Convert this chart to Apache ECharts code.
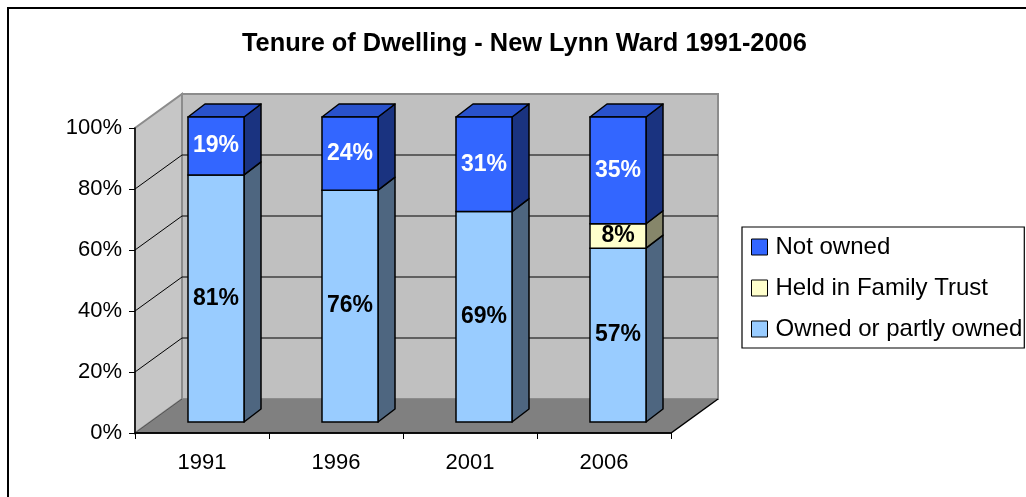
<!DOCTYPE html>
<html>
<head>
<meta charset="utf-8">
<script src="https://cdn.jsdelivr.net/npm/echarts@6/dist/echarts.min.js"></script>
<style>html,body{margin:0;padding:0;background:#fff}#c{width:1026px;height:497px}</style>
</head>
<body>
<div id="c"></div>
<script>
const categories = ['1991', '1996', '2001', '2006'];
const ownedValues = [81, 76, 69, 57];
const trustValues = [0, 0, 0, 8];
const notOwnedValues = [19, 24, 31, 35];
const yTicks = [0, 20, 40, 60, 80, 100];
const seriesNames = ['Owned or partly owned', 'Held in Family Trust', 'Not owned'];

const FONT = '"Liberation Sans", Arial, sans-serif';
// 3D geometry (pixels)
const WALL_DX = 47, WALL_DY = -34;
const OFF_X = 14, OFF_Y = -11;
const BAR_DX = 17, BAR_DY = -13;
const BAR_FRAC = 0.418;

const styles = [
  {front: '#99CCFF', side: '#4E6680', top: '#7AA3CC', text: '#000'},
  {front: '#FFFFCC', side: '#86866A', top: '#CCCCA3', text: '#000'},
  {front: '#3366FF', side: '#1A3380', top: '#2952CC', text: '#fff'}
];

const stacks = [ownedValues, trustValues, notOwnedValues];
function buildData(k) {
  return categories.map((c, i) => {
    let start = 0;
    for (let j = 0; j < k; j++) start += stacks[j][i];
    const v = stacks[k][i];
    return [i, start, start + v, v];
  });
}

function wallRender(params, api) {
  const band = api.size([1, 0])[0];
  const p0 = api.coord([0, 0]);
  const left = p0[0] - band / 2;
  const right = left + band * categories.length;
  const y0 = p0[1];
  const yTop = api.coord([0, yTicks[yTicks.length - 1]])[1];
  const children = [];
  children.push({type: 'polygon', shape: {points: [[left + WALL_DX, yTop + WALL_DY], [right + WALL_DX, yTop + WALL_DY], [right + WALL_DX, y0 + WALL_DY], [left + WALL_DX, y0 + WALL_DY]]},
    style: {fill: '#C0C0C0', stroke: '#8C8C8C', lineWidth: 2}});
  children.push({type: 'polygon', shape: {points: [[left, y0], [left, yTop], [left + WALL_DX, yTop + WALL_DY], [left + WALL_DX, y0 + WALL_DY]]},
    style: {fill: '#C6C6C6', stroke: '#8C8C8C', lineWidth: 2}});
  yTicks.forEach(t => {
    if (t === 0 || t === yTicks[yTicks.length - 1]) return;
    const y = api.coord([0, t])[1];
    children.push({type: 'polyline', shape: {points: [[left, y], [left + WALL_DX, y + WALL_DY], [right + WALL_DX, y + WALL_DY]]},
      style: {fill: null, stroke: '#000', lineWidth: 1}});
  });
  children.push({type: 'polygon', shape: {points: [[left, y0], [right, y0], [right + WALL_DX, y0 + WALL_DY], [left + WALL_DX, y0 + WALL_DY]]},
    style: {fill: '#808080', stroke: null}});
  children.push({type: 'polyline', shape: {points: [[left, y0], [right, y0], [right + WALL_DX, y0 + WALL_DY]]},
    style: {fill: null, stroke: '#000', lineWidth: 1.5}});
  children.push({type: 'polyline', shape: {points: [[left, y0], [left + WALL_DX, y0 + WALL_DY]]},
    style: {fill: null, stroke: '#555', lineWidth: 1}});
  return {type: 'group', children};
}

function makeBarRender(k) {
  const st = styles[k];
  return function (params, api) {
    const i = api.value(0), start = api.value(1), end = api.value(2), v = api.value(3);
    if (!(v > 0)) return null;
    const band = api.size([1, 0])[0];
    const w = band * BAR_FRAC;
    const pB = api.coord([i, start]);
    const pT = api.coord([i, end]);
    const x0 = pB[0] - w / 2 + OFF_X, x1 = x0 + w;
    const yb = pB[1] + OFF_Y, yt = pT[1] + OFF_Y;
    let isTop = true;
    for (let j = k + 1; j < stacks.length; j++) if (stacks[j][i] > 0) isTop = false;
    const children = [];
    children.push({type: 'polygon', shape: {points: [[x1, yb], [x1, yt], [x1 + BAR_DX, yt + BAR_DY], [x1 + BAR_DX, yb + BAR_DY]]},
      style: {fill: st.side, stroke: '#000', lineWidth: 1.5, lineJoin: 'round'}});
    if (isTop) {
      children.push({type: 'polygon', shape: {points: [[x0, yt], [x1, yt], [x1 + BAR_DX, yt + BAR_DY], [x0 + BAR_DX, yt + BAR_DY]]},
        style: {fill: st.top, stroke: '#000', lineWidth: 1.5, lineJoin: 'round'}});
    }
    children.push({type: 'rect', shape: {x: x0, y: yt, width: w, height: yb - yt},
      style: {fill: st.front, stroke: '#000', lineWidth: 1.5}});
    children.push({type: 'text', style: {text: v + '%', x: (x0 + x1) / 2, y: (yb + yt) / 2, align: 'center', verticalAlign: 'middle',
      fill: st.text, font: 'bold 23px ' + FONT}});
    return {type: 'group', children};
  };
}

const chart = echarts.init(document.getElementById('c'), null, {renderer: 'canvas'});
chart.setOption({
  animation: false,
  backgroundColor: '#fff',
  title: {
    text: 'Tenure of Dwelling - New Lynn Ward 1991-2006',
    left: 237, top: 26,
    padding: 5,
    textStyle: {fontFamily: FONT, fontSize: 25.4, fontWeight: 'bold', color: '#000'}
  },
  graphic: [{type: 'rect', shape: {x: 8, y: 8, width: 1030, height: 500}, style: {fill: null, stroke: '#000', lineWidth: 2}, z: 100}],
  legend: {
    orient: 'vertical', left: 742, top: 227,
    data: ['Not owned', 'Held in Family Trust', 'Owned or partly owned'],
    itemWidth: 16, itemHeight: 16, itemGap: 17, icon: 'rect',
    padding: [8, 2, 7, 9],
    borderColor: '#000', borderWidth: 1.2,
    itemStyle: {borderColor: '#000', borderWidth: 1},
    textStyle: {fontFamily: FONT, fontSize: 24, color: '#000', lineHeight: 24, padding: [0, 0, 0, 3]}
  },
  grid: {left: 135, top: 128, width: 536, height: 305, containLabel: false},
  xAxis: {
    type: 'category', data: categories, z: 5,
    axisLine: {lineStyle: {color: '#000', width: 1.5}},
    axisTick: {show: true, length: 6, lineStyle: {color: '#000'}},
    axisLabel: {fontFamily: FONT, fontSize: 22, color: '#000', margin: 19},
    splitLine: {show: false}
  },
  yAxis: {
    type: 'value', min: 0, max: 100, interval: 20, z: 5,
    axisLine: {show: true, lineStyle: {color: '#000', width: 1.5}},
    axisTick: {show: true, length: 6, lineStyle: {color: '#000'}},
    axisLabel: {fontFamily: FONT, fontSize: 22, color: '#000', margin: 13, formatter: '{value}%'},
    splitLine: {show: false}
  },
  series: [
    {type: 'custom', name: 'walls', renderItem: wallRender, data: [[0, 0]], z: 1, silent: true},
    {type: 'custom', name: seriesNames[0], renderItem: makeBarRender(0), data: buildData(0), z: 2, itemStyle: {color: styles[0].front}},
    {type: 'custom', name: seriesNames[1], renderItem: makeBarRender(1), data: buildData(1), z: 3, itemStyle: {color: styles[1].front}},
    {type: 'custom', name: seriesNames[2], renderItem: makeBarRender(2), data: buildData(2), z: 4, itemStyle: {color: styles[2].front}}
  ]
});
</script>
</body>
</html>
